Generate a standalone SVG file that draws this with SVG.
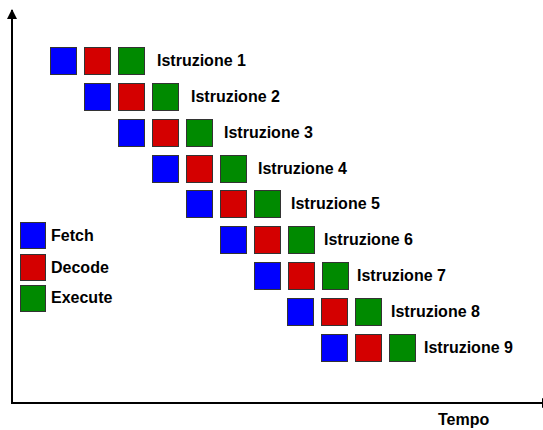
<svg xmlns="http://www.w3.org/2000/svg" width="543" height="430" viewBox="0 0 543 430">
<style>
.f{fill:#0000ff;stroke:#333;stroke-width:1}
.d{fill:#d40000;stroke:#333;stroke-width:1}
.e{fill:#008a00;stroke:#333;stroke-width:1}
text{font-family:"Liberation Sans",Arial,sans-serif;font-weight:bold;font-size:16px;fill:#000}
.ax{stroke:#000;stroke-width:2;fill:none}
</style>
<defs>
<marker id="ar" viewBox="0 0 10 10" refX="9" refY="5" markerWidth="5" markerHeight="5" orient="auto" markerUnits="strokeWidth"><path d="M0,0 L10,5 L0,10 z" fill="#000"/></marker>
</defs>
<rect width="543" height="430" fill="#fff"/>
<g id="connectors">
<path class="ax" d="M12,403 L12,10" marker-end="url(#ar)"/>
<path class="ax" d="M11,403 L551,403" marker-end="url(#ar)"/>
</g>
<g id="i1"><rect class="f" x="50.5" y="47.5" width="26" height="27"/><rect class="d" x="84.5" y="47.5" width="26" height="27"/><rect class="e" x="118.5" y="47.5" width="26" height="27"/><text x="157" y="66">Istruzione 1</text></g>
<g id="i2"><rect class="f" x="84.5" y="83.5" width="26" height="27"/><rect class="d" x="118.5" y="83.5" width="26" height="27"/><rect class="e" x="152.5" y="83.5" width="26" height="27"/><text x="191" y="102">Istruzione 2</text></g>
<g id="i3"><rect class="f" x="118.5" y="119.5" width="26" height="27"/><rect class="d" x="152.5" y="119.5" width="26" height="27"/><rect class="e" x="186.5" y="119.5" width="26" height="27"/><text x="224" y="138">Istruzione 3</text></g>
<g id="i4"><rect class="f" x="152.5" y="155.5" width="26" height="27"/><rect class="d" x="186.5" y="155.5" width="26" height="27"/><rect class="e" x="220.5" y="155.5" width="26" height="27"/><text x="258" y="174">Istruzione 4</text></g>
<g id="i5"><rect class="f" x="186.5" y="190.5" width="26" height="27"/><rect class="d" x="220.5" y="190.5" width="26" height="27"/><rect class="e" x="254.5" y="190.5" width="26" height="27"/><text x="291" y="209">Istruzione 5</text></g>
<g id="i6"><rect class="f" x="220.5" y="226.5" width="26" height="27"/><rect class="d" x="254.5" y="226.5" width="26" height="27"/><rect class="e" x="288.5" y="226.5" width="26" height="27"/><text x="324" y="245">Istruzione 6</text></g>
<g id="i7"><rect class="f" x="254.5" y="262.5" width="26" height="27"/><rect class="d" x="288.5" y="262.5" width="26" height="27"/><rect class="e" x="322.5" y="262.5" width="26" height="27"/><text x="357" y="281">Istruzione 7</text></g>
<g id="i8"><rect class="f" x="287.5" y="298.5" width="26" height="27"/><rect class="d" x="321.5" y="298.5" width="26" height="27"/><rect class="e" x="355.5" y="298.5" width="26" height="27"/><text x="391" y="317">Istruzione 8</text></g>
<g id="i9"><rect class="f" x="321.5" y="334.5" width="26" height="27"/><rect class="d" x="355.5" y="334.5" width="26" height="27"/><rect class="e" x="389.5" y="334.5" width="26" height="27"/><text x="424" y="353">Istruzione 9</text></g>
<g id="legend">
<rect class="f" x="20.5" y="222.5" width="25" height="26"/><text x="51" y="241">Fetch</text>
<rect class="d" x="20.5" y="254.5" width="25" height="26"/><text x="51" y="273">Decode</text>
<rect class="e" x="20.5" y="285.5" width="25" height="26"/><text x="51" y="303">Execute</text>
</g>
<g id="tempo"><text x="438" y="425">Tempo</text></g>
</svg>
